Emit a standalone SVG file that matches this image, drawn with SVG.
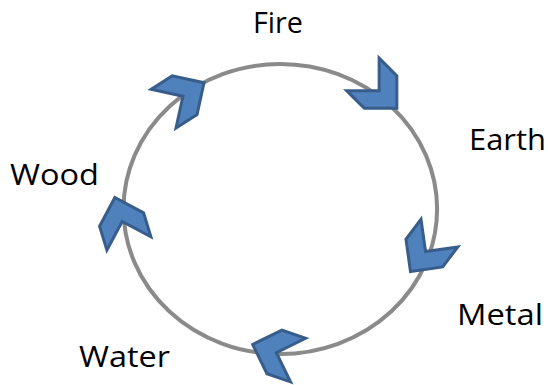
<svg xmlns="http://www.w3.org/2000/svg" width="548" height="385" viewBox="0 0 548 385">
  <style>
    .lbl { font-family: "Open Sans", "Liberation Sans", sans-serif; font-size: 30px; fill: #000; }
    .ring { fill: none; stroke: #8a8a8a; stroke-width: 4; }
    .chev { fill: #4f81bd; stroke: #385d8a; stroke-width: 3; stroke-linejoin: miter; }
  </style>
  <defs>
    <path id="chevron" d="M -35.5 -23 L -10.5 -23 L 12.5 0 L -10.5 23 L -35.5 23 L -12.5 0 Z"/>
  </defs>
  <rect width="548" height="385" fill="#fff"/>
  <g id="connectors">
    <ellipse class="ring" cx="280.3" cy="209" rx="156.8" ry="145"/>
    <use href="#chevron" class="chev" transform="translate(193.5 89.5) rotate(-32.6)"/>
    <use href="#chevron" class="chev" transform="translate(388 99.5) rotate(45)"/>
    <use href="#chevron" class="chev" transform="translate(418 261.5) rotate(127)"/>
    <use href="#chevron" class="chev" transform="translate(264.5 348.5) rotate(199)"/>
    <use href="#chevron" class="chev" transform="translate(118.5 209.5) rotate(-107)"/>
  </g>
  <g id="fire"><text class="lbl" x="253" y="33" textLength="50" lengthAdjust="spacingAndGlyphs">Fire</text></g>
  <g id="earth"><text class="lbl" x="469" y="150" textLength="77" lengthAdjust="spacingAndGlyphs">Earth</text></g>
  <g id="metal"><text class="lbl" x="457" y="325" textLength="86" lengthAdjust="spacingAndGlyphs">Metal</text></g>
  <g id="water"><text class="lbl" x="79" y="367" textLength="91" lengthAdjust="spacingAndGlyphs">Water</text></g>
  <g id="wood"><text class="lbl" x="10" y="185" textLength="89" lengthAdjust="spacingAndGlyphs">Wood</text></g>
</svg>
